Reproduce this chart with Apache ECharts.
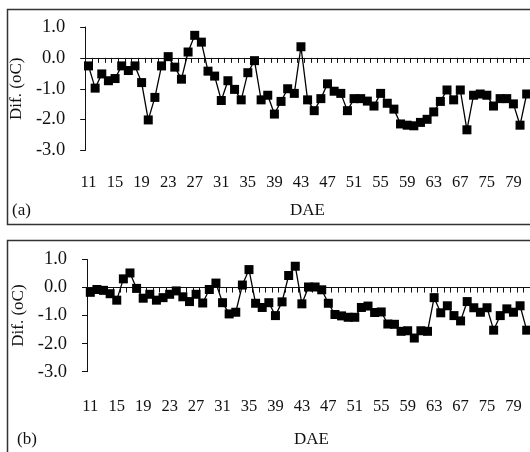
<!DOCTYPE html>
<html>
<head>
<meta charset="utf-8">
<script src="https://cdn.jsdelivr.net/npm/echarts@6/dist/echarts.min.js"></script>
<style>
  html, body { margin: 0; padding: 0; background: #fff; }
  #chart { width: 530px; height: 452px; }
</style>
</head>
<body>
<div id="chart"></div>
<script>
// Days after emergence (DAE); sampling skips some days after 67
const days = ['11','12','13','14','15','16','17','18','19','20','21','22','23','24','25','26','27','28','29','30',
  '31','32','33','34','35','36','37','38','39','40','41','42','43','44','45','46','47','48','49','50',
  '51','52','53','54','55','56','57','58','59','60','61','62','63','64','65','66','67','69','71','73',
  '75','76','77','78','79','80','81'];

// Temperature difference (oC), panel (a)
const difA = [-0.26,-0.98,-0.52,-0.74,-0.67,-0.26,-0.41,-0.26,-0.80,-2.01,
  -1.28,-0.26,0.04,-0.30,-0.69,0.19,0.73,0.51,-0.43,-0.59,
  -1.38,-0.74,-1.02,-1.36,-0.48,-0.09,-1.36,-1.21,-1.82,-1.41,
  -1.00,-1.15,0.36,-1.36,-1.71,-1.32,-0.84,-1.08,-1.15,-1.71,
  -1.32,-1.32,-1.40,-1.56,-1.15,-1.47,-1.66,-2.14,-2.18,-2.20,
  -2.09,-1.99,-1.75,-1.41,-1.04,-1.36,-1.04,-2.33,-1.21,-1.17,
  -1.21,-1.56,-1.32,-1.32,-1.49,-2.18,-1.17];

// Temperature difference (oC), panel (b)
const difB = [-0.17,-0.07,-0.10,-0.22,-0.45,0.31,0.52,-0.03,-0.38,-0.24,
  -0.45,-0.36,-0.24,-0.12,-0.33,-0.50,-0.24,-0.55,-0.07,0.16,
  -0.54,-0.94,-0.88,0.09,0.64,-0.56,-0.71,-0.54,-1.00,-0.51,
  0.43,0.76,-0.58,0.02,0.02,-0.08,-0.56,-0.96,-1.01,-1.06,
  -1.06,-0.71,-0.66,-0.89,-0.87,-1.30,-1.31,-1.56,-1.54,-1.80,
  -1.54,-1.56,-0.36,-0.90,-0.65,-1.00,-1.19,-0.50,-0.72,-0.88,
  -0.72,-1.52,-1.00,-0.76,-0.88,-0.65,-1.52];

const yMin = -3, yMax = 1, yStep = 1;
const FONT = 'Liberation Serif';
const INK = '#111';

const chart = echarts.init(document.getElementById('chart'), null, { renderer: 'canvas' });

function zeroAxis(gi) {
  return {
    type: 'category', gridIndex: gi, data: days, boundaryGap: true,
    axisLine: { show: true, onZero: true, lineStyle: { color: INK, width: 1 } },
    axisTick: { show: true, interval: 0, length: 5, lineStyle: { color: INK, width: 1 } },
    axisLabel: { show: false }, splitLine: { show: false }
  };
}
function labelAxis(gi, margin) {
  return {
    type: 'category', gridIndex: gi, data: days, boundaryGap: true, position: 'bottom',
    axisLine: { show: false, onZero: false }, axisTick: { show: false },
    axisLabel: { interval: 3, margin: margin, color: INK, fontFamily: FONT, fontSize: 16.5 },
    splitLine: { show: false }
  };
}
function valueAxis(gi, gap) {
  return {
    type: 'value', gridIndex: gi, min: yMin, max: yMax, interval: yStep,
    name: 'Dif. (oC)', nameLocation: 'middle', nameGap: gap,
    nameTextStyle: { color: INK, fontFamily: FONT, fontSize: 17 },
    axisLine: { show: true, lineStyle: { color: INK, width: 1 } },
    axisTick: { show: true, length: 5, lineStyle: { color: INK, width: 1 } },
    axisLabel: { color: INK, fontFamily: FONT, fontSize: 18.5, margin: 20,
      formatter: v => v.toFixed(1) },
    splitLine: { show: false }
  };
}
function lineSeries(xi, yi, data) {
  return {
    type: 'line', xAxisIndex: xi, yAxisIndex: yi, data: data,
    symbol: 'rect', symbolSize: 9, showAllSymbol: true,
    itemStyle: { color: '#000' },
    lineStyle: { color: '#000', width: 1.3 },
    animation: false
  };
}

const labelFont = '17px "Liberation Serif"';

chart.setOption({
  backgroundColor: '#fff',
  animation: false,
  grid: [
    { left: 82, top: 27, width: 452, height: 123.5 },
    { left: 87, top: 259.5, width: 445.5, height: 112.2 }
  ],
  xAxis: [zeroAxis(0), labelAxis(0, 24), zeroAxis(1), labelAxis(1, 26)],
  yAxis: [valueAxis(0, 50), valueAxis(1, 53)],
  series: [lineSeries(0, 0, difA), lineSeries(2, 1, difB)],
  graphic: [
    { type: 'rect', shape: { x: 7.5, y: 9.5, width: 540, height: 215 },
      style: { fill: 'none', stroke: '#333', lineWidth: 1.5 } },
    { type: 'rect', shape: { x: 7.5, y: 240.5, width: 540, height: 230 },
      style: { fill: 'none', stroke: '#333', lineWidth: 1.5 } },
    { type: 'text', left: 12, top: 202, style: { text: '(a)', font: labelFont, fill: INK } },
    { type: 'text', left: 290, top: 202, style: { text: 'DAE', font: labelFont, fill: INK } },
    { type: 'text', left: 17, top: 431, style: { text: '(b)', font: labelFont, fill: INK } },
    { type: 'text', left: 294, top: 431, style: { text: 'DAE', font: labelFont, fill: INK } }
  ]
});
</script>
</body>
</html>
